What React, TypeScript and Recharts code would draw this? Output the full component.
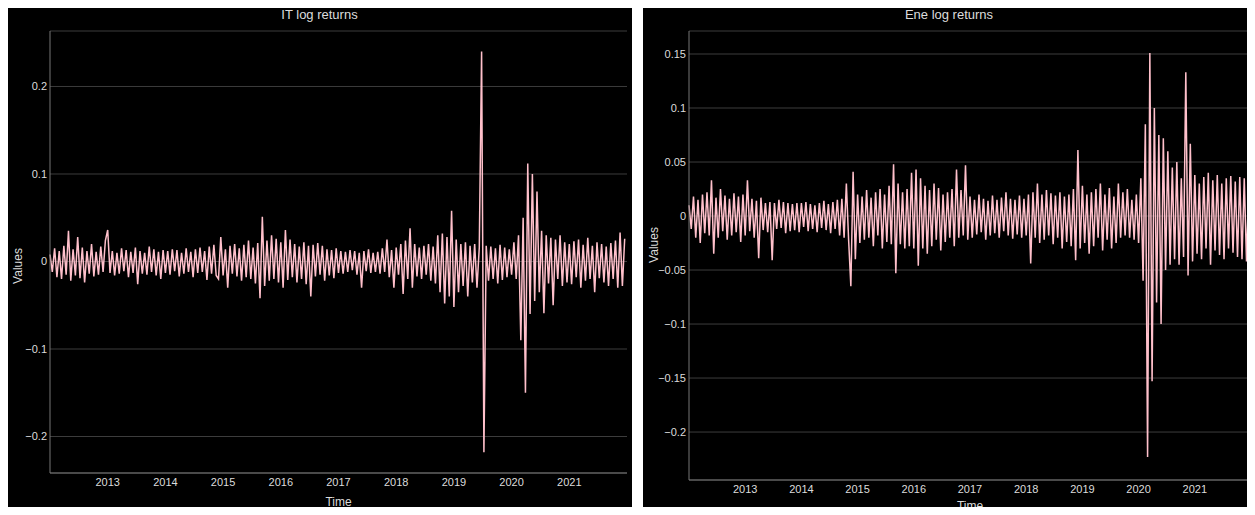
import React from "react";
import { CartesianGrid, Line, LineChart, XAxis, YAxis } from "recharts";

// ~25 readings per year, Jan 2012 → Dec 2021
const START_YEAR = 2012;
const POINTS_PER_YEAR = 25;
const YEAR_TICKS = [2013, 2014, 2015, 2016, 2017, 2018, 2019, 2020, 2021];

const IT_Y_TICKS = [-0.2, -0.1, 0, 0.1, 0.2];
const ENE_Y_TICKS = [-0.2, -0.15, -0.1, -0.05, 0, 0.05, 0.1, 0.15];

// IT log returns, one row per year
const IT_RETURNS = [
  0.008, -0.012, 0.015, -0.018, 0.012, -0.02, 0.018, -0.015, 0.035, -0.022, 0.014, -0.016, 0.028, -0.019, 0.016, -0.024, 0.012, -0.014, 0.02, -0.017, 0.011, -0.015, 0.017, -0.012, 0.024,
  0.036, -0.013, 0.012, -0.016, 0.01, -0.014, 0.015, -0.011, 0.013, -0.018, 0.011, -0.013, 0.016, -0.026, 0.012, -0.014, 0.01, -0.015, 0.017, -0.012, 0.014, -0.016, 0.011, -0.02, 0.013,
  -0.013, 0.012, -0.015, 0.014, -0.011, 0.013, -0.017, 0.01, -0.014, 0.015, -0.012, 0.011, -0.018, 0.014, -0.013, 0.016, -0.012, 0.012, -0.021, 0.017, -0.014, 0.019, -0.016, -0.02, 0.028,
  -0.016, 0.014, -0.03, 0.018, -0.014, 0.02, -0.017, 0.015, -0.022, 0.019, -0.018, 0.024, -0.02, 0.016, -0.025, 0.021, -0.042, 0.051, -0.028, 0.024, -0.022, 0.03, -0.02, 0.026, -0.024,
  0.022, -0.03, 0.036, -0.021, 0.025, -0.018, 0.02, -0.024, 0.017, -0.02, 0.022, -0.026, 0.018, -0.04, 0.019, -0.017, 0.021, -0.015, 0.018, -0.022, 0.014, -0.016, 0.013, -0.019, 0.015,
  -0.013, 0.012, -0.014, 0.011, -0.012, 0.013, -0.01, 0.012, -0.015, 0.01, -0.03, 0.012, -0.011, 0.014, -0.013, 0.01, -0.012, 0.011, -0.014, 0.015, -0.012, 0.025, -0.018, 0.013, -0.03,
  0.016, -0.015, 0.02, -0.037, 0.024, -0.02, 0.038, -0.03, 0.02, -0.017, 0.016, -0.02, 0.018, -0.015, 0.02, -0.022, 0.017, -0.025, 0.03, -0.035, 0.032, -0.048, 0.028, -0.04, 0.058,
  -0.052, 0.025, -0.035, 0.02, -0.028, 0.022, -0.04, 0.018, -0.024, 0.02, -0.03, 0.016, 0.24, -0.218, 0.018, -0.022, 0.017, -0.02, 0.015, -0.025, 0.019, -0.021, 0.016, -0.018, 0.014,
  -0.015, 0.022, -0.02, 0.03, -0.09, 0.05, -0.15, 0.112, -0.06, 0.1, -0.045, 0.08, -0.035, 0.035, -0.059, 0.03, -0.025, 0.027, -0.05, 0.025, -0.02, 0.03, -0.028, 0.022, -0.024,
  0.02, -0.026, 0.023, -0.018, 0.025, -0.03, 0.019, -0.022, 0.027, -0.02, 0.018, -0.035, 0.022, -0.019, 0.02, -0.024, 0.017, -0.028, 0.021, -0.02, 0.024, -0.03, 0.033, -0.028, 0.026,
];

// Energy log returns, one row per year
const ENE_RETURNS = [
  0.01, -0.012, 0.018, -0.02, 0.015, -0.025, 0.02, -0.016, 0.022, -0.018, 0.033, -0.035, 0.017, -0.02, 0.025, -0.014, 0.019, -0.022, 0.016, -0.018, 0.021, -0.015, 0.018, -0.024, 0.02,
  -0.018, 0.033, -0.014, 0.016, -0.02, 0.014, -0.039, 0.017, -0.013, 0.012, -0.015, 0.013, -0.041, 0.012, -0.012, 0.015, -0.011, 0.013, -0.016, 0.012, -0.014, 0.011, -0.013, 0.012, -0.015,
  0.012, -0.01, 0.013, -0.014, 0.011, -0.012, 0.01, -0.015, 0.012, -0.011, 0.014, -0.013, 0.011, -0.016, 0.013, -0.012, 0.015, -0.018, 0.016, -0.02, 0.03, -0.022, -0.065, 0.041, -0.04,
  0.02, -0.025, 0.018, -0.022, 0.024, -0.02, 0.017, -0.028, 0.022, -0.018, 0.025, -0.03, 0.02, -0.024, 0.028, -0.026, 0.048, -0.053, 0.03, -0.026, 0.022, -0.03, 0.025, -0.028, 0.04,
  -0.03, 0.043, -0.046, 0.035, -0.03, 0.028, -0.035, 0.024, -0.028, 0.03, -0.022, 0.026, -0.032, 0.02, -0.024, 0.022, -0.02, 0.025, -0.028, 0.043, -0.02, 0.024, -0.018, 0.047, -0.022,
  0.018, -0.02, 0.015, -0.017, 0.02, -0.015, 0.016, -0.022, 0.014, -0.018, 0.019, -0.016, 0.015, -0.02, 0.017, -0.014, 0.022, -0.018, 0.016, -0.021, 0.015, -0.017, 0.019, -0.02, 0.016,
  -0.018, 0.02, -0.044, 0.022, -0.02, 0.03, -0.025, 0.02, -0.022, 0.024, -0.018, 0.021, -0.026, 0.019, -0.02, 0.022, -0.03, 0.018, -0.024, 0.02, -0.028, 0.025, -0.041, 0.061, -0.03,
  0.028, -0.025, 0.02, -0.035, 0.022, -0.028, 0.025, -0.02, 0.03, -0.032, 0.02, -0.022, 0.026, -0.03, 0.018, -0.025, 0.03, -0.02, 0.022, -0.018, 0.025, -0.02, 0.015, -0.022, 0.02,
  -0.025, 0.035, -0.06, 0.085, -0.223, 0.151, -0.153, 0.1, -0.08, 0.075, -0.1, 0.072, -0.05, 0.06, -0.045, 0.045, -0.04, 0.05, -0.045, 0.035, -0.038, 0.133, -0.055, 0.067, -0.042,
  0.038, -0.035, 0.03, -0.04, 0.036, -0.03, 0.04, -0.045, 0.033, -0.032, 0.038, -0.036, 0.03, -0.04, 0.035, -0.03, 0.037, -0.034, 0.032, -0.038, 0.036, -0.04, 0.035, -0.042, 0.03,
];

const toSeries = (values: number[]) =>
  values.map((v, i) => ({ t: START_YEAR + i / POINTS_PER_YEAR, v }));

const FONT = "'Liberation Sans', Arial, sans-serif";
const TEXT = "#dcdcdc";

const fmtTick = (v: number) => String(v).replace("-", "\u2212");

interface PanelProps {
  title: string;
  values: number[];
  yDomain: [number, number];
  yTicks: number[];
  left: number;
  width: number;
  height: number;
  yAxisWidth: number;
  xAxisHeight: number;
  rightMargin: number;
  valuesY: number;
  timeY: number;
}

function Panel(p: PanelProps) {
  const data = toSeries(p.values);
  const plotCenterX = p.yAxisWidth + (p.width - p.yAxisWidth - p.rightMargin) / 2;
  return (
    <div
      style={{
        position: "absolute",
        left: p.left,
        top: 7,
        width: p.width,
        height: p.height,
        background: "#000",
        overflow: "hidden",
        fontFamily: FONT,
      }}
    >
      <LineChart
        width={p.width}
        height={p.height}
        data={data}
        margin={{ top: 24, right: p.rightMargin, bottom: 0, left: 0 }}
      >
        <CartesianGrid vertical={false} stroke="#3c3c3c" />
        <XAxis
          dataKey="t"
          type="number"
          domain={[2012, 2022]}
          ticks={YEAR_TICKS}
          height={p.xAxisHeight}
          tickLine={false}
          tickSize={0}
          tickMargin={5}
          axisLine={{ stroke: "#777" }}
          tick={{ fontSize: 11, fill: TEXT, fontFamily: FONT }}
        />
        <YAxis
          type="number"
          domain={p.yDomain}
          ticks={p.yTicks}
          width={p.yAxisWidth}
          tickLine={false}
          tickSize={0}
          tickMargin={3}
          axisLine={{ stroke: "#777" }}
          tickFormatter={fmtTick}
          tick={{ fontSize: 11, fill: TEXT, fontFamily: FONT }}
        />
        <Line
          type="linear"
          dataKey="v"
          stroke="pink"
          strokeWidth={1.5}
          dot={false}
          isAnimationActive={false}
        />
      </LineChart>
      <div
        style={{
          position: "absolute",
          left: 0,
          width: p.width,
          top: 0,
          textAlign: "center",
          fontSize: 13,
          color: TEXT,
          lineHeight: "16px",
        }}
      >
        {p.title}
      </div>
      <div
        style={{
          position: "absolute",
          left: 11,
          top: p.valuesY,
          transform: "translate(-50%, -50%) rotate(-90deg)",
          fontSize: 12,
          color: TEXT,
        }}
      >
        Values
      </div>
      <div
        style={{
          position: "absolute",
          left: plotCenterX,
          top: p.timeY,
          transform: "translate(-50%, -50%)",
          fontSize: 12,
          lineHeight: "13px",
          color: TEXT,
        }}
      >
        Time
      </div>
    </div>
  );
}

export default function App() {
  return (
    <div
      style={{
        position: "relative",
        width: 1255,
        height: 515,
        margin: -8,
        background: "#fff",
        overflow: "hidden",
      }}
    >
      <Panel
        title="IT log returns"
        values={IT_RETURNS}
        yDomain={[-0.2417, 0.2634]}
        yTicks={IT_Y_TICKS}
        left={7}
        width={625}
        height={504}
        yAxisWidth={43}
        xAxisHeight={38}
        rightMargin={5}
        valuesY={259}
        timeY={495}
      />
      <Panel
        title="Ene log returns"
        values={ENE_RETURNS}
        yDomain={[-0.2444, 0.1713]}
        yTicks={ENE_Y_TICKS}
        left={643}
        width={612}
        height={508}
        yAxisWidth={46}
        xAxisHeight={35}
        rightMargin={4}
        valuesY={238}
        timeY={499}
      />
    </div>
  );
}
